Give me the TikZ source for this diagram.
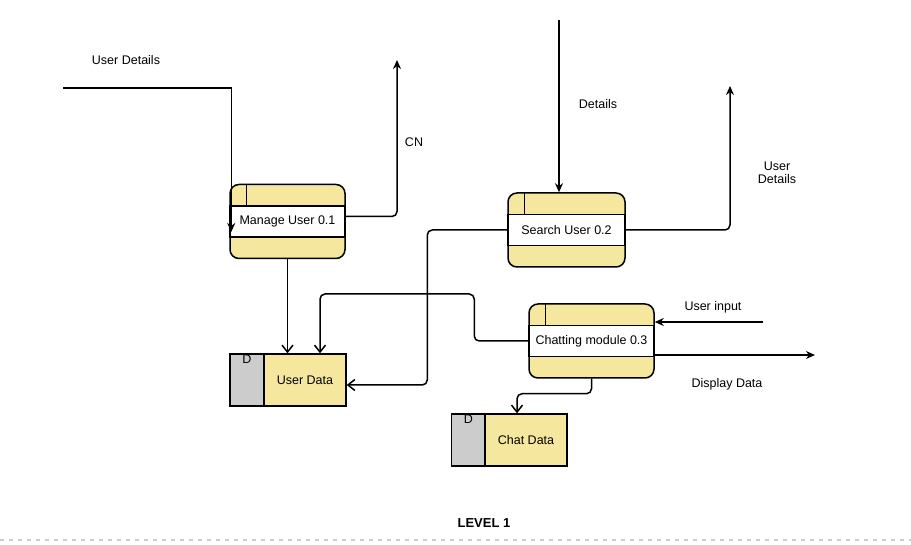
\documentclass[tikz,border=0pt]{standalone}
\usepackage{fontspec}
\setmainfont{Liberation Sans}
\usetikzlibrary{arrows.meta}

\definecolor{procyellow}{HTML}{F5E79E}
\definecolor{storegray}{HTML}{CCCCCC}

\begin{document}
\begin{tikzpicture}
  [x=1pt,y=-1pt,font=\fontsize{12.5}{14.5}\selectfont,
   proc/.style={draw=black,line width=1.5pt,fill=procyellow,rounded corners=9pt,minimum height=74pt},
   band/.style={draw=black,line width=1.5pt,fill=white,minimum height=31pt,inner sep=0pt},
   dstore/.style={draw=black,line width=1.4pt,fill=procyellow,minimum height=52pt,inner sep=0pt},
   dgray/.style={draw=black,line width=1.4pt,fill=storegray,minimum width=34pt,minimum height=52pt,inner sep=0pt},
   flow/.style={line width=1.5pt,-{Stealth[length=9pt,width=8pt]}},
   tostore/.style={line width=1.5pt,rounded corners=5pt,-{Straight Barb[length=7pt,width=11pt]}}]

  \useasboundingbox (0,0) rectangle (911,545);

  % processes
  \node[proc,minimum width=115pt] (p1) at (287.5,221.5) {};
  \node[band,minimum width=115pt] (p1t) at (287.5,221.5) {Manage User 0.1};
  \node[proc,minimum width=117pt] (p2) at (566.5,230) {};
  \node[band,minimum width=117pt] (p2t) at (566.5,230) {Search User 0.2};
  \node[proc,minimum width=125pt] (p3) at (591.5,341) {};
  \node[band,minimum width=125pt] (p3t) at (591.5,341) {Chatting module 0.3};

  \foreach \p/\b in {p1/p1t,p2/p2t,p3/p3t}
    \draw[line width=1.5pt] ([xshift=17pt]\p.north west) -- ([xshift=17pt]\b.north west);

  % data stores
  \node[dgray,label={[anchor=north,inner sep=1.5pt]north:D}] (udD) at (247,380) {};
  \node[dstore,minimum width=82pt] (ud) at (305,380) {User Data};
  \node[dgray,label={[anchor=north,inner sep=1.5pt]north:D}] (cdD) at (468.5,440) {};
  \node[dstore,minimum width=82pt] (cd) at (526,440) {Chat Data};

  % free ends
  \coordinate (srcUD) at (63,88);
  \coordinate (cnOut) at (397,60);
  \coordinate (srcDet) at (559,20);
  \coordinate (udOut) at (730,86);
  \coordinate (srcIn) at (763,322);
  \coordinate (dispOut) at (815,355);

  % labels
  \node (lUD) at (126,60) {User Details};
  \node (lCN) at (414,142) {CN};
  \node (lDet) at (598,104) {Details};
  \node[align=center,inner sep=0pt] (lUD2) at (777,173) {User\\[-1pt]Details};
  \node (lIn) at (713,307) {User input};
  \node (lDisp) at (727,384) {Display Data};
  \node[font=\fontsize{13}{15}\selectfont\bfseries] (lLevel) at (484,523) {LEVEL 1};

  % flows
  \draw[flow] (srcUD) -| ([xshift=2pt,yshift=-10.5pt]p1.west);
  \draw[flow,rounded corners=5pt] ([yshift=5pt]p1.east) -| (cnOut);
  \draw[flow] (srcDet) -- (srcDet |- p2.north);
  \draw[flow,rounded corners=5pt] (p2.east) -| (udOut);
  \draw[flow] (srcIn) -- (srcIn -| p3.east);
  \draw[flow] ([yshift=-14pt]p3.east) -- (dispOut);

  \draw[tostore] (p1.south) -- (p1.south |- ud.north);
  \draw[tostore] (p2.west) -- ++(-80,0) |- ([yshift=-5pt]ud.east);
  \draw[tostore] (p3.west) -- ++(-54,0) -- ++(0,-47) -| ([xshift=15pt]ud.north);
  \draw[tostore] (p3.south) -- ++(0,15) -| ([xshift=-9pt]cd.north);

  % page edge
  \draw[storegray,line width=1.5pt,dash pattern=on 4pt off 5pt] (0,540) -- (911,540);
\end{tikzpicture}
\end{document}
